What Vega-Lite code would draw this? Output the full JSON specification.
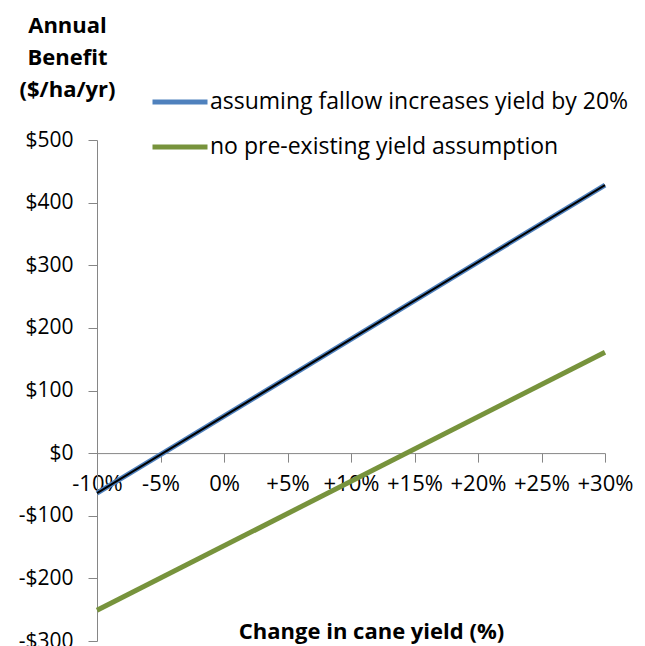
{
  "$schema": "https://vega.github.io/schema/vega-lite/v6.json",
  "autosize": {"type": "none"},
  "padding": {"left": 97, "top": 140, "right": 40, "bottom": 5},
  "width": 508,
  "height": 501,
  "background": "white",
  "config": {
    "view": {"stroke": null},
    "font": "Open Sans",
    "axis": {"grid": false, "domainColor": "#868686", "tickColor": "#868686", "labelColor": "#000000", "labelFont": "Open Sans", "labelFontSize": 21, "titleFont": "Open Sans", "titleFontSize": 22, "titleFontWeight": "bold", "titleColor": "#000000"}
  },
  "data": {"values": [
    {"series": "assuming fallow increases yield by 20%", "change": -10, "benefit": -64},
    {"series": "assuming fallow increases yield by 20%", "change": 30, "benefit": 428},
    {"series": "no pre-existing yield assumption", "change": -10, "benefit": -251},
    {"series": "no pre-existing yield assumption", "change": 30, "benefit": 161}
  ]},
  "encoding": {
    "x": {"field": "change", "type": "quantitative",
      "scale": {"domain": [-10, 30], "nice": false, "zero": false},
      "axis": {"values": [-10, -5, 0, 5, 10, 15, 20, 25, 30], "offset": -187.9, "tickSize": 9, "labelPadding": 11, "labelFontSize": 22, "labelOverlap": false, "labelFlush": false, "labelBound": false,
        "labelExpr": "datum.value > 0 ? '+' + datum.value + '%' : datum.value + '%'",
        "title": "Change in cane yield (%)", "titleX": 274, "titleY": 185, "titleAlign": "center", "titleBaseline": "alphabetic", "titleAnchor": null}},
    "y": {"field": "benefit", "type": "quantitative",
      "scale": {"domain": [-300, 500], "nice": false, "zero": false},
      "axis": {"values": [-300, -200, -100, 0, 100, 200, 300, 400, 500], "tickSize": 9, "labelPadding": 15, "labelOverlap": false, "labelFlush": false, "labelBound": false,
        "labelExpr": "datum.value < 0 ? '-$' + abs(datum.value) : '$' + datum.value",
        "title": ["Annual", "Benefit", "($/ha/yr)"], "titleAngle": 0, "titleAlign": "center", "titleBaseline": "top", "titleX": -30, "titleY": -125, "titleLineHeight": 32, "titleAnchor": null}}
  },
  "layer": [
    {
      "mark": {"type": "line", "strokeWidth": 5, "strokeCap": "butt"},
      "encoding": {
        "color": {"field": "series", "type": "nominal",
          "scale": {"domain": ["assuming fallow increases yield by 20%", "no pre-existing yield assumption"], "range": ["#4F81BD", "#77933C"]},
          "legend": {"title": null, "orient": "none", "legendX": 53, "legendY": -68, "symbolType": "stroke", "symbolSize": 3025, "symbolStrokeWidth": 5, "labelFontSize": 23, "labelFont": "Open Sans", "labelColor": "#000000", "labelOffset": 0, "rowPadding": 3, "labelLimit": 600}}
      }
    },
    {
      "transform": [{"filter": "datum.series == 'assuming fallow increases yield by 20%'"}],
      "mark": {"type": "line", "strokeWidth": 2, "color": "#000000"}
    }
  ]
}
